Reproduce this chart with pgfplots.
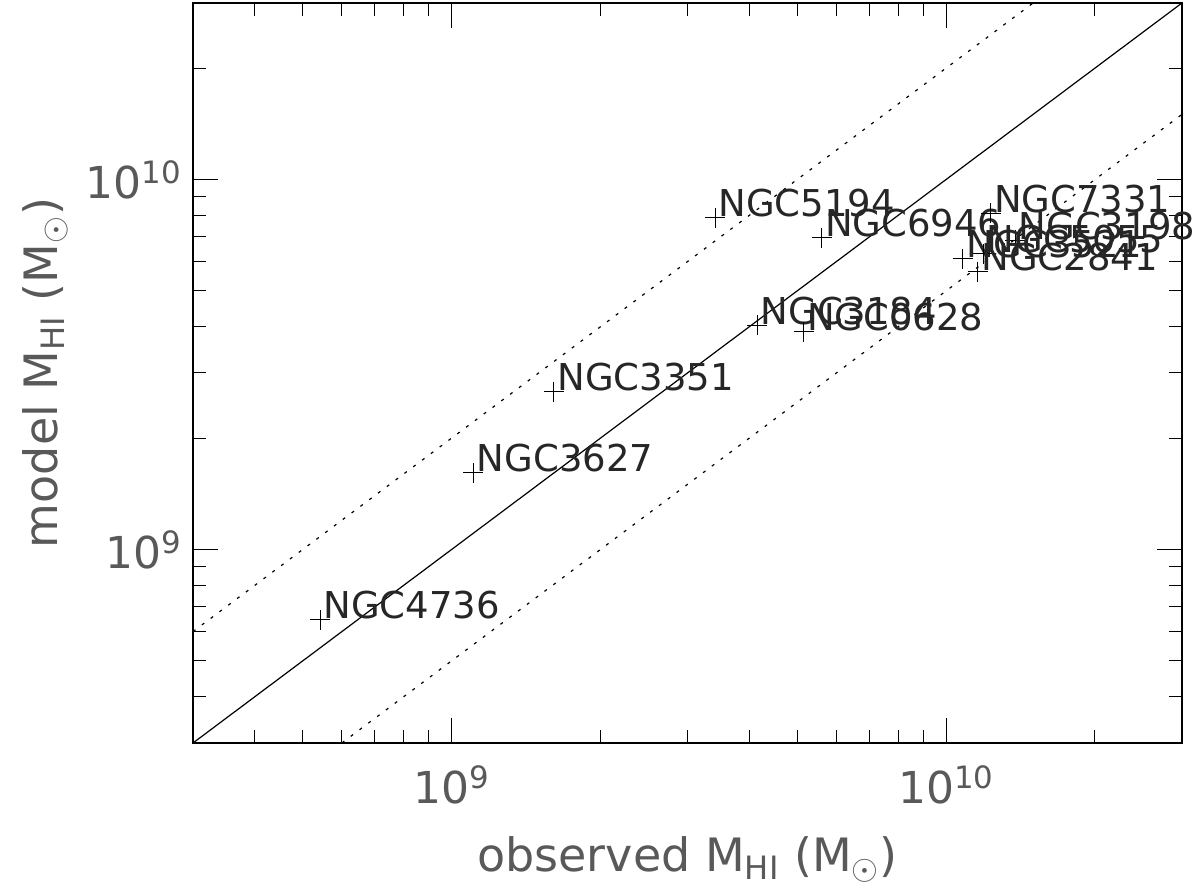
\documentclass[border=0pt]{standalone}
\usepackage{pgfplots}
\pgfplotsset{compat=1.18}
\usepackage{fontspec}
\setmainfont{DejaVu Sans}
\pgfplotstableread{
label x y
NGC4736 5.42e8 6.45e8
NGC3627 1.107e9 1.61e9
NGC3351 1.61e9 2.67e9
NGC5194 3.41e9 7.89e9
NGC6946 5.60e9 6.95e9
NGC3184 4.15e9 4.04e9
NGC0628 5.15e9 3.88e9
NGC7331 1.23e10 8.10e9
NGC3198 1.38e10 6.86e9
NGC3521 1.08e10 6.10e9
NGC5055 1.19e10 6.30e9
NGC2841 1.16e10 5.64e9
}\galaxies
\begin{document}
\begin{tikzpicture}
\begin{axis}[
  xmode=log, ymode=log,
  xmin=3e8, xmax=3e10, ymin=3e8, ymax=3e10,
  width=494.5pt, height=370pt, scale only axis,
  xtick={1e9,1e10}, ytick={1e9,1e10},
  minor xtick={4e8,5e8,6e8,7e8,8e8,9e8,2e9,3e9,4e9,5e9,6e9,7e9,8e9,9e9,2e10,3e10},
  minor ytick={4e8,5e8,6e8,7e8,8e8,9e8,2e9,3e9,4e9,5e9,6e9,7e9,8e9,9e9,2e10,3e10},
  xticklabels={10\textsuperscript{9},10\textsuperscript{10}},
  yticklabels={10\textsuperscript{9},10\textsuperscript{10}},
  tick align=inside,
  major tick length=12.5pt, minor tick length=6.5pt,
  tick style={black, line width=0.5pt},
  axis line style={black, line width=0.6pt},
  xticklabel style={yshift=-8pt},
  yticklabel style={xshift=-2pt},
  every tick label/.append style={font=\fontsize{22}{22}\selectfont, text=black!65},
  xlabel={observed M\textsubscript{HI} (M\textsubscript{\ensuremath{\odot}})},
  ylabel={model M\textsubscript{HI} (M\textsubscript{\ensuremath{\odot}})},
  xlabel style={at={(rel axis cs:0.5,0)}, anchor=base, yshift=-64.5pt, font=\fontsize{23}{23}\selectfont, text=black!65},
  ylabel style={at={(rel axis cs:0,0.5)}, anchor=center, yshift=74pt, font=\fontsize{23}{23}\selectfont, text=black!65},
  clip=false,
]
\addplot[black, line width=0.6pt] coordinates {(3e8,3e8) (3e10,3e10)};
\addplot[black, line width=0.6pt, dash pattern=on 1.5pt off 4pt] coordinates {(3e8,6e8) (1.5e10,3e10)};
\addplot[black, line width=0.6pt, dash pattern=on 1.5pt off 4pt] coordinates {(6e8,3e8) (3e10,1.5e10)};
\addplot[only marks, mark=+, mark size=5pt, mark options={black, line width=0.5pt},
  nodes near coords, point meta=explicit symbolic,
  every node near coord/.style={anchor=base west, inner sep=0pt, xshift=1.5pt, yshift=0.5pt,
    font=\fontsize{18.5}{18.5}\selectfont, text=black!85}]
  table[x=x, y=y, meta=label] {\galaxies};
\end{axis}
\pgfresetboundingbox
\path[use as bounding box] (current axis.south west) ++(-96.5pt,-74.5pt) rectangle ++(600pt,446pt);
\end{tikzpicture}
\end{document}
